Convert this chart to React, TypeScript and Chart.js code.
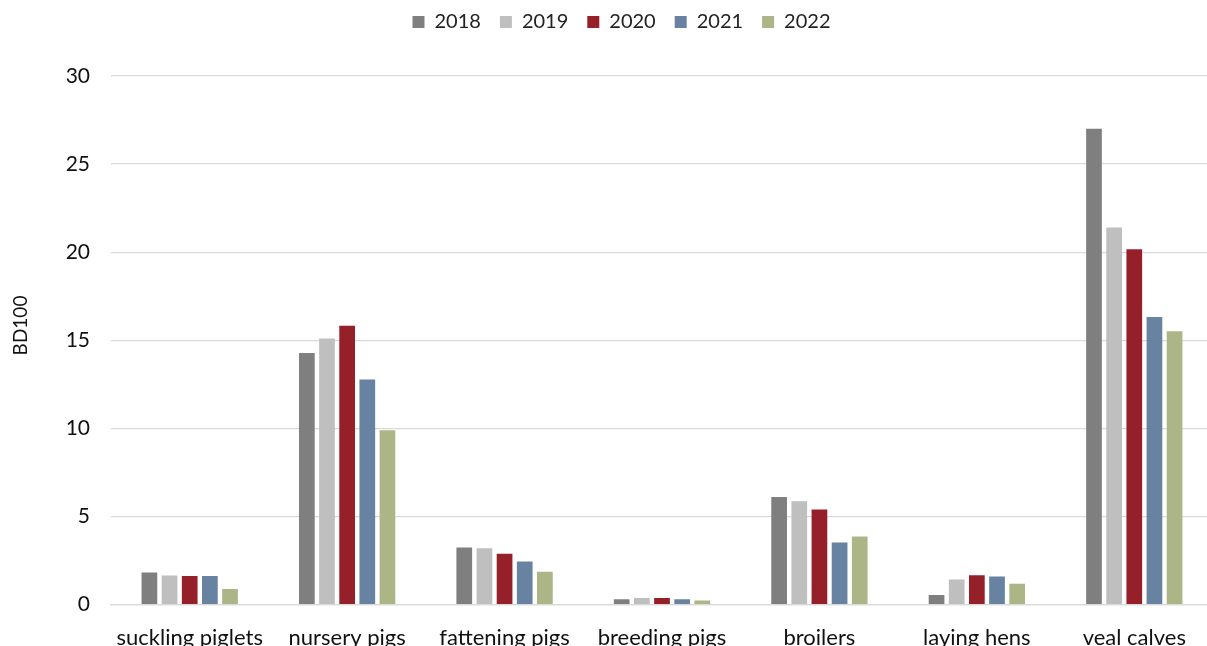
import React, { useEffect, useRef } from "react";
import { Chart, registerables } from "chart.js";

Chart.register(...registerables);

const categories = [
  "suckling piglets",
  "nursery pigs",
  "fattening pigs",
  "breeding pigs",
  "broilers",
  "laying hens",
  "veal calves",
];

const years = ["2018", "2019", "2020", "2021", "2022"];

const values2018 = [1.82, 14.28, 3.24, 0.3, 6.1, 0.55, 27.0];
const values2019 = [1.65, 15.1, 3.2, 0.37, 5.87, 1.42, 21.4];
const values2020 = [1.62, 15.83, 2.88, 0.37, 5.4, 1.67, 20.17];
const values2021 = [1.62, 12.78, 2.44, 0.3, 3.52, 1.59, 16.32];
const values2022 = [0.89, 9.89, 1.87, 0.23, 3.86, 1.19, 15.51];

const yTicks = [0, 5, 10, 15, 20, 25, 30];

const yAxisTitle = "BD100";

const seriesColors = ["#7f7f7f", "#bfbfbf", "#96202a", "#6783a1", "#abb585"];

const FONT = "Lato, 'Open Sans', sans-serif";

// Extra room under the legend and a small offset for where it sits.
const legendSpacing = {
  id: "legendSpacing",
  beforeInit(chart: any) {
    const legend = chart.legend;
    if (!legend) return;
    const fit = legend.fit;
    legend.fit = function () {
      fit.call(this);
      this.height += 27;
    };
  },
  afterLayout(chart: any) {
    const legend = chart.legend;
    if (!legend) return;
    legend.left += 15;
    legend.right += 15;
    legend.top -= 7;
    legend.bottom -= 7;
  },
};

// Rotated y-axis title, centred on the canvas height rather than the plot area.
const yTitle = {
  id: "yTitle",
  afterDraw(chart: any) {
    const ctx = chart.ctx;
    ctx.save();
    ctx.translate(21, chart.height / 2 - 10);
    ctx.rotate(-Math.PI / 2);
    ctx.fillStyle = "#111";
    ctx.font = `19px ${FONT}`;
    ctx.textAlign = "center";
    ctx.textBaseline = "middle";
    ctx.fillText(yAxisTitle, 0, 0);
    ctx.restore();
  },
};

export default function App() {
  const canvasRef = useRef<HTMLCanvasElement | null>(null);

  useEffect(() => {
    document.body.style.margin = "0";
    document.body.style.overflow = "hidden";
    const canvas = canvasRef.current;
    if (!canvas) return;
    const seriesValues = [values2018, values2019, values2020, values2021, values2022];
    const chart = new Chart(canvas, {
      type: "bar",
      data: {
        labels: categories,
        datasets: years.map((year, i) => ({
          label: year,
          data: seriesValues[i],
          backgroundColor: seriesColors[i],
          borderWidth: 0,
          categoryPercentage: 0.64,
          barPercentage: 0.78,
        })),
      },
      options: {
        responsive: false,
        animation: false,
        layout: { padding: { top: 0, left: 0, right: 0, bottom: 0 } },
        plugins: {
          tooltip: { enabled: false },
          legend: {
            position: "top",
            labels: {
              boxWidth: 12,
              boxHeight: 12,
              padding: 19,
              color: "#222",
              font: { family: FONT, size: 20 },
            },
          },
        },
        scales: {
          x: {
            grid: { display: false, drawTicks: false },
            border: { display: true, color: "#d9d9d9", width: 1.3 },
            ticks: {
              color: "#111",
              padding: 20,
              font: { family: FONT, size: 22 },
              maxRotation: 0,
              autoSkip: false,
            },
          },
          y: {
            min: 0,
            max: 30,
            afterBuildTicks: (scale: any) => {
              scale.ticks = yTicks.map((v) => ({ value: v }));
            },
            afterFit: (scale: any) => {
              scale.width = 111;
            },
            grid: { color: "#d9d9d9", lineWidth: 1.3, drawTicks: false },
            border: { display: false },
            ticks: {
              color: "#111",
              padding: 21,
              font: { family: FONT, size: 21 },
            },
          },
        },
      },
      plugins: [legendSpacing, yTitle],
    });
    return () => chart.destroy();
  }, []);

  return (
    <div style={{ width: 1207, height: 646, overflow: "hidden", position: "relative", background: "#fff" }}>
      <canvas ref={canvasRef} width={1213} height={671} style={{ display: "block" }} />
    </div>
  );
}
